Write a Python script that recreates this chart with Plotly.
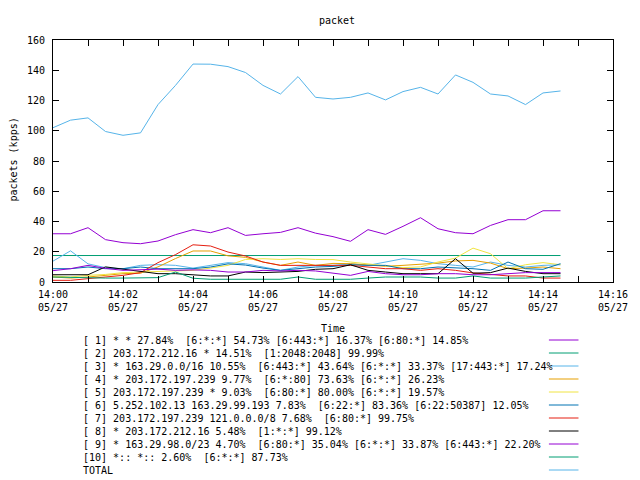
import plotly.graph_objects as go

# ---------------- data ----------------
times = [
    "14:00:00", "14:00:30", "14:01:00", "14:01:30", "14:02:00", "14:02:30",
    "14:03:00", "14:03:30", "14:04:00", "14:04:30", "14:05:00", "14:05:30",
    "14:06:00", "14:06:30", "14:07:00", "14:07:30", "14:08:00", "14:08:30",
    "14:09:00", "14:09:30", "14:10:00", "14:10:30", "14:11:00", "14:11:30",
    "14:12:00", "14:12:30", "14:13:00", "14:13:30", "14:14:00", "14:14:30",
]
date_str = "2024-05-27"

s1 = [31.9, 31.9, 35.9, 28.0, 26.0, 25.3, 27.1, 31.3, 34.6, 32.6, 35.9, 30.8, 31.9, 32.8, 35.9,
      32.3, 30.0, 26.9, 34.6, 31.5, 36.8, 42.5, 35.2, 32.6, 31.9, 37.4, 41.2, 41.2, 47.1, 47.1]
s2 = [17.5, 17.5, 17.5, 17.5, 17.5, 17.5, 17.5, 17.5, 17.5, 17.5, 17.5, 17.5, 17.5, 17.5, 17.5,
      17.5, 17.5, 17.5, 17.5, 17.5, 17.5, 17.5, 17.5, 17.5, 17.5, 17.5, 17.5, 17.5, 17.5, 17.5]
s3 = [13.8, 20.6, 12.0, 9.5, 8.8, 11.0, 11.5, 11.0, 9.2, 11.0, 12.8, 12.1, 9.9, 7.7, 9.9,
      11.0, 11.0, 12.0, 11.0, 13.0, 15.4, 14.3, 12.1, 11.0, 9.9, 13.2, 11.0, 9.9, 11.0, 11.4]
s4 = [3.3, 2.6, 3.3, 4.4, 5.5, 5.8, 10.0, 15.5, 20.5, 20.5, 17.3, 16.3, 13.2, 11.0, 13.2,
      11.0, 12.3, 12.1, 11.0, 10.4, 11.0, 11.7, 12.5, 13.9, 14.3, 12.5, 8.8, 9.2, 9.9, 8.8]
s5 = [4.0, 3.3, 4.4, 5.0, 6.2, 6.6, 7.0, 7.7, 7.7, 9.2, 11.0, 14.9, 15.4, 14.9, 15.4,
      14.9, 14.8, 13.2, 12.0, 10.5, 9.5, 10.0, 13.2, 15.8, 22.4, 18.7, 8.8, 11.4, 12.8, 11.4]
s6 = [8.8, 8.8, 9.9, 8.8, 8.8, 9.9, 8.8, 8.8, 8.8, 9.9, 12.0, 11.2, 9.2, 7.7, 8.8,
      9.9, 10.3, 11.4, 11.0, 11.0, 8.8, 8.8, 9.9, 9.5, 8.8, 7.7, 13.2, 8.8, 8.4, 12.1]
s7 = [1.1, 1.1, 2.2, 3.3, 4.4, 6.2, 12.8, 18.1, 24.6, 23.8, 19.8, 17.2, 13.2, 11.0, 11.0,
      11.4, 11.4, 11.0, 9.9, 8.8, 8.8, 7.7, 8.8, 7.7, 6.0, 4.8, 4.0, 4.0, 2.6, 2.6]
s8 = [4.8, 4.8, 4.8, 10.0, 8.5, 6.6, 5.5, 5.5, 4.5, 4.0, 4.0, 6.6, 6.2, 6.6, 7.0,
      8.4, 8.8, 11.4, 7.7, 6.6, 5.5, 5.5, 5.5, 15.4, 5.8, 6.2, 9.2, 7.0, 5.5, 5.5]
s9 = [7.5, 8.8, 11.0, 9.0, 7.7, 8.0, 8.5, 7.7, 8.0, 7.7, 6.6, 6.6, 7.7, 7.3, 7.7,
      7.3, 6.0, 4.4, 7.0, 5.5, 4.8, 4.8, 5.5, 5.5, 4.8, 4.8, 5.5, 6.2, 6.2, 6.2]
s10 = [3.3, 2.9, 2.6, 2.6, 2.6, 2.6, 2.9, 6.6, 2.5, 1.8, 1.8, 1.8, 1.8, 1.8, 3.3,
       1.8, 1.8, 1.8, 2.6, 3.3, 3.3, 3.3, 2.6, 2.6, 4.0, 2.6, 2.6, 2.6, 3.3, 4.0]
total = [102.0, 107.0, 108.5, 99.5, 97.0, 98.6, 117.3, 130.0, 144.1, 144.0, 142.4, 138.5, 130.0,
         124.3, 135.8, 122.1, 121.0, 122.1, 125.0, 120.4, 125.9, 128.7, 124.3, 136.9, 132.0,
         124.3, 123.0, 117.3, 125.0, 126.3]

series = [s1, s2, s3, s4, s5, s6, s7, s8, s9, s10, total]
labels = [
    "[ 1] * * 27.84%  [6:*:*] 54.73% [6:443:*] 16.37% [6:80:*] 14.85%",
    "[ 2] 203.172.212.16 * 14.51%  [1:2048:2048] 99.99%",
    "[ 3] * 163.29.0.0/16 10.55%  [6:443:*] 43.64% [6:*:*] 33.37% [17:443:*] 17.24%",
    "[ 4] * 203.172.197.239 9.77%  [6:*:80] 73.63% [6:*:*] 26.23%",
    "[ 5] 203.172.197.239 * 9.03%  [6:80:*] 80.00% [6:*:*] 19.57%",
    "[ 6] 5.252.102.13 163.29.99.193 7.83%  [6:22:*] 83.36% [6:22:50387] 12.05%",
    "[ 7] 203.172.197.239 121.0.0.0/8 7.68%  [6:80:*] 99.75%",
    "[ 8] * 203.172.212.16 5.48%  [1:*:*] 99.12%",
    "[ 9] * 163.29.98.0/23 4.70%  [6:80:*] 35.04% [6:*:*] 33.87% [6:443:*] 22.20%",
    "[10] *:: *:: 2.60%  [6:*:*] 87.73%",
    "TOTAL",
]
colors = ["#9400D3", "#009E73", "#56B4E9", "#E69F00", "#F0E442", "#0072B2",
          "#E51E10", "#000000", "#9400D3", "#009E73", "#56B4E9"]

tick_times = ["14:00", "14:01", "14:02", "14:03", "14:04", "14:05", "14:06", "14:07", "14:08",
              "14:09", "14:10", "14:11", "14:12", "14:13", "14:14", "14:15", "14:16"]
tick_text = ["14:00<br>05/27", "", "14:02<br>05/27", "", "14:04<br>05/27", "", "14:06<br>05/27", "",
             "14:08<br>05/27", "", "14:10<br>05/27", "", "14:12<br>05/27", "", "14:14<br>05/27", "",
             "14:16<br>05/27"]
y_ticks = [0, 20, 40, 60, 80, 100, 120, 140, 160]

# ---------------- layout geometry (page pixels) ----------------
W, H = 640, 480
OFF = 8  # default page body margin
L, R, T, B = 53, 621, 40, 282
FONT = "DejaVu Sans Mono"


def px_x(px):
    return (px - L) / (R - L)


def px_y(py):
    return (B - py) / (B - T)


x_vals = [f"{date_str} {t}" for t in times]

fig = go.Figure()
for ys, col, lab in zip(series, colors, labels):
    fig.add_trace(go.Scatter(x=x_vals, y=ys, mode="lines", name=lab,
                             line=dict(color=col, width=1), showlegend=False))

annotations = []
shapes = []
row0, row_step = 340, 13
for i, (lab, col) in enumerate(zip(labels, colors)):
    yy = row0 + i * row_step
    annotations.append(dict(text=lab, x=px_x(81), y=px_y(yy), xref="paper", yref="paper",
                            xanchor="left", yanchor="middle", showarrow=False,
                            font=dict(family=FONT, size=10, color="black")))
    shapes.append(dict(type="line", xref="paper", yref="paper",
                       x0=px_x(556), x1=px_x(586), y0=px_y(yy), y1=px_y(yy),
                       line=dict(color=col, width=1)))

annotations.append(dict(text="Time", x=px_x(337), y=px_y(328), xref="paper", yref="paper",
                        xanchor="center", yanchor="middle", showarrow=False,
                        font=dict(family=FONT, size=10, color="black")))
annotations.append(dict(text="packets (kpps)", x=px_x(12), y=px_y(160), xref="paper", yref="paper",
                        xanchor="center", yanchor="middle", showarrow=False, textangle=-90,
                        font=dict(family=FONT, size=10, color="black")))

fig.update_layout(
    width=W - OFF, height=H - OFF, autosize=False,
    margin=dict(l=L - OFF, r=W - R, t=T - OFF, b=H - B, pad=0),
    paper_bgcolor="white", plot_bgcolor="white",
    font=dict(family=FONT, size=10, color="black"),
    title=dict(text="packet", x=(337 - OFF) / (W - OFF), xanchor="center", xref="container",
               y=1 - (20 - OFF) / (H - OFF), yanchor="middle", yref="container",
               font=dict(family=FONT, size=10, color="black")),
    annotations=annotations,
    shapes=shapes,
    showlegend=False,
)
fig.update_xaxes(
    type="date",
    range=[f"{date_str} {tick_times[0]}", f"{date_str} {tick_times[-1]}"],
    tickmode="array", tickvals=[f"{date_str} {t}" for t in tick_times], ticktext=tick_text,
    ticks="inside", ticklen=6, tickcolor="black", tickwidth=1,
    showline=True, linecolor="black", linewidth=1, mirror="allticks",
    showgrid=False, zeroline=False, ticklabelstandoff=3,
    tickfont=dict(family=FONT, size=10, color="black"),
)
fig.update_yaxes(
    range=[0, 160], tickmode="array", tickvals=y_ticks,
    ticks="inside", ticklen=6, tickcolor="black", tickwidth=1,
    showline=True, linecolor="black", linewidth=1, mirror="allticks",
    showgrid=False, zeroline=False, ticklabelstandoff=5,
    tickfont=dict(family=FONT, size=10, color="black"),
)

fig.write_html("out.html")
